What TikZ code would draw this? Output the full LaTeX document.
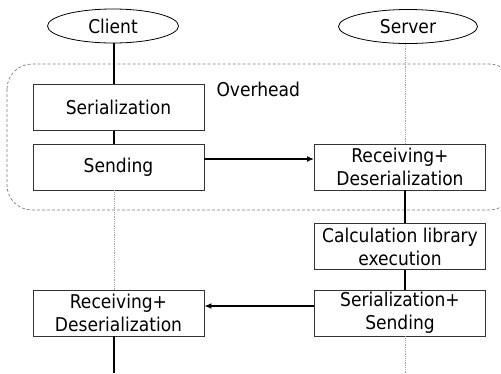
\documentclass[tikz,border=0pt]{standalone}
\usepackage{fontspec}
\setmainfont{DejaVu Sans Condensed}
\usetikzlibrary{arrows.meta}
\usetikzlibrary{shapes.geometric}

\begin{document}
\begin{tikzpicture}[x=1pt,y=-1pt,
        every node/.style={font=\fontsize{19}{23}\selectfont},
        actor/.style={draw,ellipse,line width=0.8pt,inner sep=0pt,minimum height=34pt},
        stepbox/.style={draw=black!80,line width=0.9pt,minimum width=171pt,minimum height=46pt,inner sep=0pt,align=center},
        life/.style={line width=2pt},
        idle/.style={gray!70,densely dotted,line width=0.8pt},
        msg/.style={line width=2pt,-{Latex[length=7pt,width=6pt]}}]
        \useasboundingbox (0,0) rectangle (501,373);
        \draw[gray,line width=0.7pt,dash pattern=on 3pt off 2pt,rounded corners=25pt] (7,64) rectangle (514,210); % overhead area
        \node[anchor=west] (ovh) at (213,89) {Overhead};
        \node[actor,minimum width=131pt] (client) at (113,26) {Client};
        \node[actor,minimum width=139pt] (server) at (408,26.5) {Server};
        \coordinate (cline) at (114,0); % lifelines
        \coordinate (sline) at (405,0);
        \coordinate (cend) at (114,373);
        \coordinate (send_end) at (405,373);
        % client side
        \node[stepbox] (ser) at (118.5,107.5) {Serialization};
        \node[stepbox] (send) at (118.5,167) {Sending};
        \node[stepbox] (crecv) at (118.5,313) {Receiving+\\Deserialization};
        % server side
        \node[stepbox] (srecv) at (400,167) {Receiving+\\Deserialization};
        \node[stepbox] (calc) at (400,246.5) {Calculation library\\execution};
        \node[stepbox] (ssend) at (400,313) {Serialization+\\Sending};
        \draw[life] (client.south -| cline) -- (ser.north -| cline);
        \draw[life] (ser.south -| cline) -- (send.north -| cline);
        \draw[idle] (send.south -| cline) -- (crecv.north -| cline);
        \draw[life] (crecv.south -| cline) -- (cend);
        \draw[idle] (server.south -| sline) -- (srecv.north -| sline);
        \draw[life] (srecv.south -| sline) -- (calc.north -| sline);
        \draw[life] (calc.south -| sline) -- (ssend.north -| sline);
        \draw[idle] (ssend.south -| sline) -- (send_end);
        \draw[msg] ([yshift=8pt]send.east) -- ([yshift=8pt]srecv.west); % request
        \draw[msg] ([yshift=7pt]ssend.west) -- ([yshift=7pt]crecv.east); % reply
    \end{tikzpicture}
\end{document}
